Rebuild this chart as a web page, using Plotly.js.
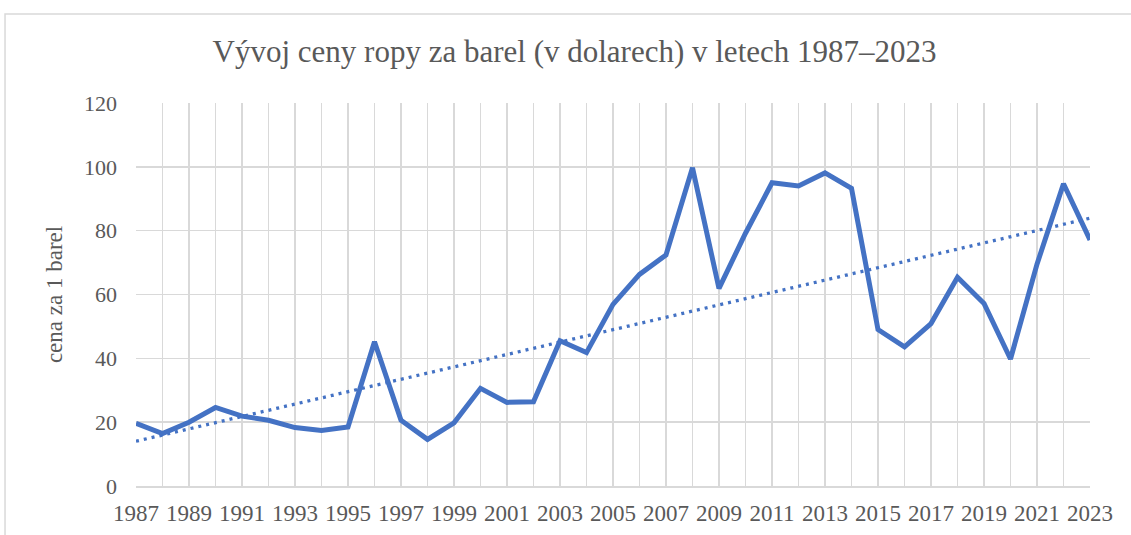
<!DOCTYPE html>
<html><head><meta charset="utf-8">
<script src="https://cdn.plot.ly/plotly-3.0.1.min.js"></script>
<style>html,body{margin:0;padding:0;background:#fff}#chart{width:1131px;height:535px}</style>
</head><body><div id="chart"></div>
<script>
const years = [];
for (let y = 1987; y <= 2023; y++) years.push(y);
const prices = [19.6, 16.4, 20.0, 24.6, 21.9, 20.6, 18.3, 17.4, 18.5, 45.2,
  20.6, 14.6, 19.8, 30.6, 26.2, 26.4, 45.5, 41.8, 56.9, 66.3,
  72.4, 99.7, 61.9, 79.2, 95.0, 94.0, 98.1, 93.3, 49.0, 43.6,
  50.9, 65.4, 57.2, 39.8, 69.5, 94.7, 77.1];
const tickYears = years.filter(y => (y - 1987) % 2 === 0);

// linear trendline (least squares), as in the original chart
const n = years.length;
const mx = years.reduce((a,b)=>a+b,0)/n;
const my = prices.reduce((a,b)=>a+b,0)/n;
let sxy = 0, sxx = 0;
for (let i = 0; i < n; i++) { sxy += (years[i]-mx)*(prices[i]-my); sxx += (years[i]-mx)**2; }
const slope = sxy/sxx, icpt = my - slope*mx;
const trend = years.map(y => icpt + slope*y);

const font = '"Liberation Serif", "Times New Roman", serif';
const data = [
  {x: years, y: trend, mode: 'lines', line: {color: '#4472C4', width: 3.3, dash: '3px,5px'}, hoverinfo: 'skip'},
  {x: years, y: prices, mode: 'lines', line: {color: '#4472C4', width: 5}}
];
const layout = {
  width: 1131, height: 535,
  margin: {l: 136, r: 41, t: 103, b: 49},
  paper_bgcolor: '#fff', plot_bgcolor: '#fff',
  showlegend: false,
  font: {family: font, color: '#595959'},
  title: {text: 'Vývoj ceny ropy za barel (v dolarech) v letech 1987–2023',
    font: {family: font, size: 31, color: '#595959'}, x: 0.508, xanchor: 'center', y: 0.905, yanchor: 'middle'},
  xaxis: {range: [1987, 2023], tickmode: 'array', tickvals: tickYears, ticktext: tickYears.map(String),
    showgrid: true, gridcolor: '#d9d9d9', gridwidth: 1.5,
    minor: {dtick: 1, tick0: 1987, showgrid: true, gridcolor: '#d9d9d9', gridwidth: 1.5},
    showline: true, linecolor: '#d9d9d9', linewidth: 1.5, zeroline: false,
    tickfont: {family: font, size: 23, color: '#595959'}, ticks: '', ticklabelstandoff: 6},
  yaxis: {range: [0, 120], dtick: 20, tick0: 0, showgrid: true, gridcolor: '#d9d9d9', gridwidth: 1.5,
    zeroline: false, showline: false, ticks: '', ticklabelstandoff: 18,
    tickfont: {family: font, size: 22, color: '#595959'},
    title: {text: 'cena za 1 barel', font: {family: font, size: 23, color: '#595959'}, standoff: 14}},
  shapes: [{type: 'rect', xref: 'paper', yref: 'paper', x0: -0.1373, x1: 1.06, y0: -0.2, y1: 1.2324,
    line: {color: '#d9d9d9', width: 1.5}, fillcolor: 'rgba(0,0,0,0)', layer: 'below'}]
};
Plotly.newPlot('chart', data, layout, {staticPlot: true});
</script></body></html>
